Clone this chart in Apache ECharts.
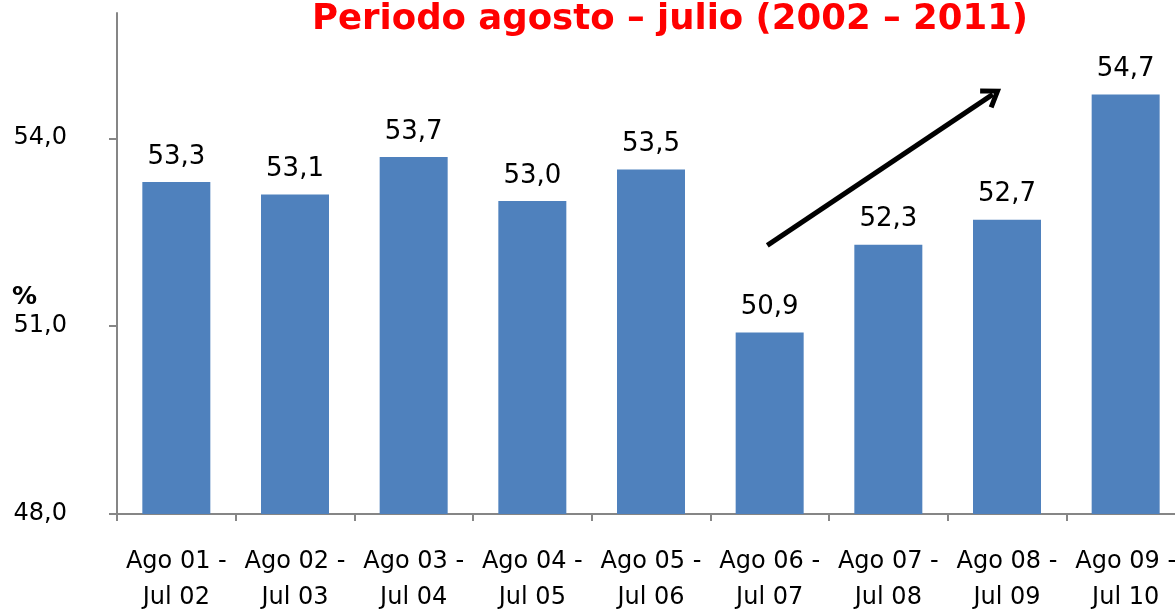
<!DOCTYPE html>
<html>
<head>
<meta charset="utf-8">
<script src="https://cdn.jsdelivr.net/npm/echarts@6/dist/echarts.min.js"></script>
<style>
html, body { margin: 0; padding: 0; background: #fff; }
#main { width: 1175px; height: 609px; }
</style>
</head>
<body>
<div id="main"></div>
<script>
// datos del gráfico
var categorias = ['Ago 01 -\nJul 02', 'Ago 02 -\nJul 03', 'Ago 03 -\nJul 04', 'Ago 04 -\nJul 05',
    'Ago 05 -\nJul 06', 'Ago 06 -\nJul 07', 'Ago 07 -\nJul 08', 'Ago 08 -\nJul 09', 'Ago 09 -\nJul 10'];
var valores = [53.3, 53.1, 53.7, 53.0, 53.5, 50.9, 52.3, 52.7, 54.7];
var marcasY = [48, 51, 54];
var titulo = 'Periodo agosto – julio (2002 – 2011)';
// flecha de tendencia: posición horizontal en anchos de categoría (0..9), valor en %
var flechaInicio = [5.48, 52.29];
var flechaFin = [7.38, 54.70];

var fuente = '"DejaVu Sans", sans-serif';
var chart = echarts.init(document.getElementById('main'));

function coma(v) { return v.toFixed(1).replace('.', ','); }

chart.setOption({
    animation: false,
    title: {
        text: titulo,
        left: 307,
        top: -3,
        textStyle: { color: '#ff0000', fontSize: 35.5, fontWeight: 'bold', fontFamily: fuente }
    },
    grid: { left: 117, right: -10, top: 13, bottom: 95, outerBoundsMode: 'none', containLabel: false },
    graphic: [{
        type: 'text',
        left: 12,
        top: 285,
        style: { text: '%', font: 'bold 25px ' + fuente, fill: '#000' }
    }],
    xAxis: [{
        type: 'category',
        data: categorias,
        axisLine: { lineStyle: { color: '#868686', width: 2 } },
        axisTick: { show: true, length: 7, lineStyle: { color: '#868686', width: 2 } },
        axisLabel: { color: '#000', fontSize: 24, lineHeight: 36, margin: 30, fontFamily: fuente, interval: 0 }
    }, {
        // eje auxiliar oculto para colocar la flecha
        type: 'value',
        min: 0,
        max: categorias.length,
        show: false
    }],
    yAxis: {
        type: 'value',
        min: 48,
        max: 56,
        interval: 3,
        splitLine: { show: false },
        axisLine: { show: true, lineStyle: { color: '#868686', width: 2 } },
        axisTick: { show: true, length: 8, customValues: marcasY, lineStyle: { color: '#868686', width: 2 } },
        axisLabel: {
            color: '#000', fontSize: 24, margin: 50, fontFamily: fuente,
            customValues: marcasY,
            formatter: function (v) { return coma(v); }
        }
    },
    series: [{
        type: 'bar',
        data: valores,
        barWidth: 68,
        itemStyle: { color: '#4f81bd' },
        label: {
            show: true,
            position: 'top',
            distance: 12,
            color: '#000',
            fontSize: 26,
            fontFamily: fuente,
            formatter: function (p) { return coma(p.value); }
        }
    }, {
        type: 'scatter',
        xAxisIndex: 1,
        data: [],
        silent: true,
        markLine: {
            silent: true,
            symbol: ['none', 'path://M0,12 L10,0 L20,12 L16.5,14 L10,6 L3.5,14 Z'],
            symbolSize: [24, 20],
            label: { show: false },
            lineStyle: { color: '#000', width: 5, type: 'solid' },
            data: [[{ coord: flechaInicio }, { coord: flechaFin }]]
        }
    }]
});
</script>
</body>
</html>
